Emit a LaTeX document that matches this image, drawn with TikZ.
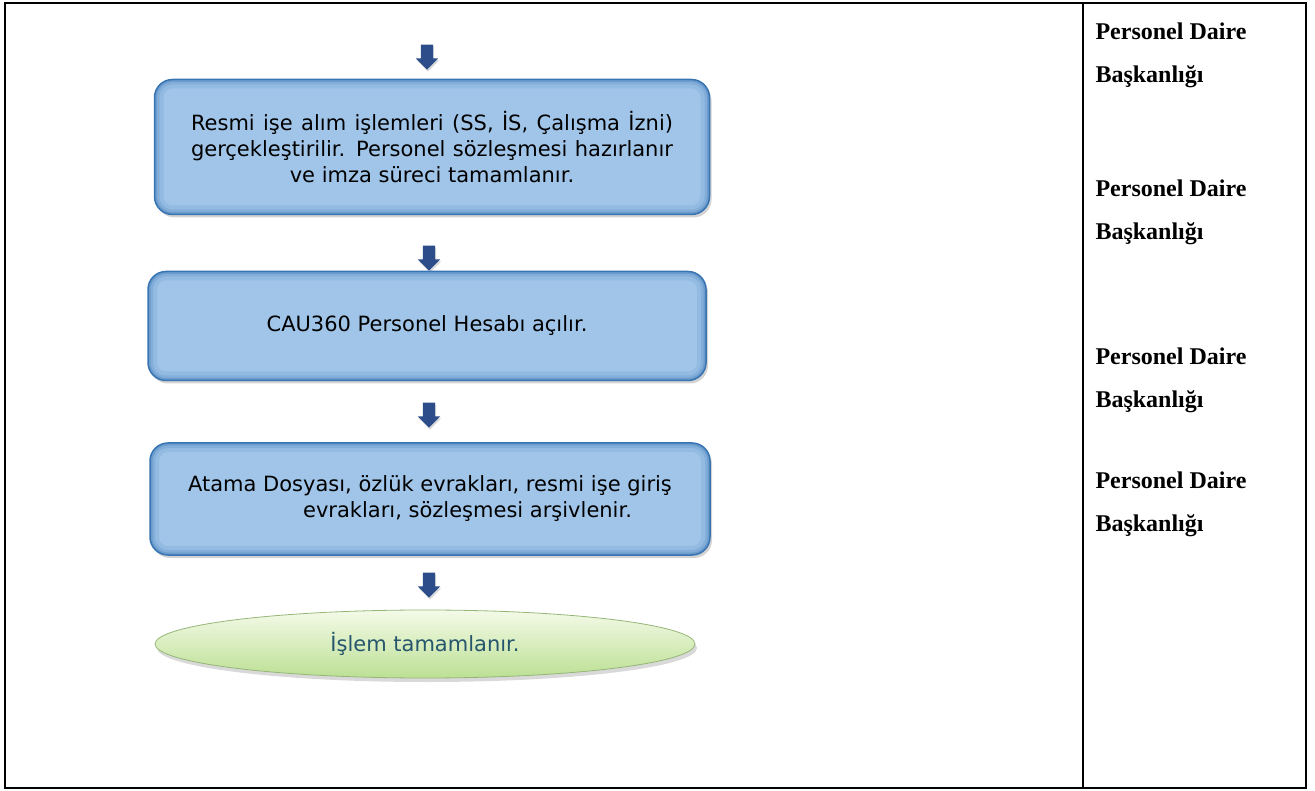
\documentclass[tikz,border=0pt]{standalone}
\usepackage{fontspec}
\setmainfont{DejaVu Sans}
\newfontfamily\unitfont{Liberation Serif}
\usepackage{tikz}
\usetikzlibrary{positioning,shapes.geometric,shapes.arrows,shadows}
\definecolor{boxfill}{RGB}{160,197,233}
\definecolor{boxedge}{RGB}{56,116,178}
\definecolor{arrblue}{RGB}{44,76,138}
\definecolor{leaftop}{RGB}{244,250,232}
\definecolor{leafbot}{RGB}{188,224,148}
\definecolor{leafedge}{RGB}{150,182,120}
\definecolor{endtext}{RGB}{38,86,108}

\begin{document}
\begin{tikzpicture}[x=1pt,y=-1pt,font=\fontsize{21}{26}\selectfont,
  stepbox/.style={rectangle,rounded corners=18pt,fill=boxfill,draw=boxedge,line width=1.5pt,
    align=center,drop shadow={shadow xshift=2pt,shadow yshift=-3pt,opacity=0.35},
    path picture={\foreach \w/\o in {18/0.12,10/0.18,5/0.3}
      \draw[boxedge,line width=\w pt,opacity=\o,rounded corners=18pt]
        (path picture bounding box.south west) rectangle (path picture bounding box.north east);}},
  endbox/.style={ellipse,top color=leaftop,bottom color=leafbot,draw=leafedge,line width=0.8pt,
    text=endtext,drop shadow={shadow xshift=2pt,shadow yshift=-4pt,opacity=0.3}},
  downarr/.style={single arrow,shape border rotate=270,fill=arrblue,inner sep=6pt,
    single arrow head extend=5pt,minimum height=25pt,
    drop shadow={shadow xshift=1pt,shadow yshift=-2pt,opacity=0.3}},
  unit/.style={anchor=west,align=left,font=\unitfont\fontsize{24}{43}\selectfont\bfseries}]
  \useasboundingbox (0,0) rectangle (1315,791);
  % table frame
  \draw[line width=2pt] (5,3) rectangle (1306,788);
  \draw[line width=2pt] (1083,3) -- (1083,788);
  % flow
  \node[downarr] (a1) at (427,54) {};
  \node[stepbox,minimum width=555pt,minimum height=135pt] (s1) at (432,147)
    {\makebox[482pt][s]{Resmi işe alım işlemleri (SS, İS, Çalışma İzni)}\\
     \makebox[482pt][s]{gerçekleştirilir. Personel sözleşmesi hazırlanır}\\ve imza süreci tamamlanır.};
  \node[downarr] (a2) at (429,255) {};
  \node[stepbox,minimum width=558pt,minimum height=109pt] (s2) at (427,326)
    {CAU360 Personel Hesabı açılır.};
  \node[downarr] (a3) at (429,412) {};
  \node[stepbox,minimum width=560pt,minimum height=112pt,align=left] (s3) at (430,499)
    {Atama Dosyası, özlük evrakları, resmi işe giriş\\\hspace*{115pt}evrakları, sözleşmesi arşivlenir.};
  \node[downarr] (a4) at (429,582) {};
  \node[endbox,minimum width=540pt,minimum height=68pt] (e1) at (425,644) {İşlem tamamlanır.};
  % responsible unit
  \node[unit] (u1) at (1092,55) {Personel Daire\\Başkanlığı};
  \node[unit] (u2) at (1092,212) {Personel Daire\\Başkanlığı};
  \node[unit] (u3) at (1092,380) {Personel Daire\\Başkanlığı};
  \node[unit] (u4) at (1092,504) {Personel Daire\\Başkanlığı};
\end{tikzpicture}
\end{document}
